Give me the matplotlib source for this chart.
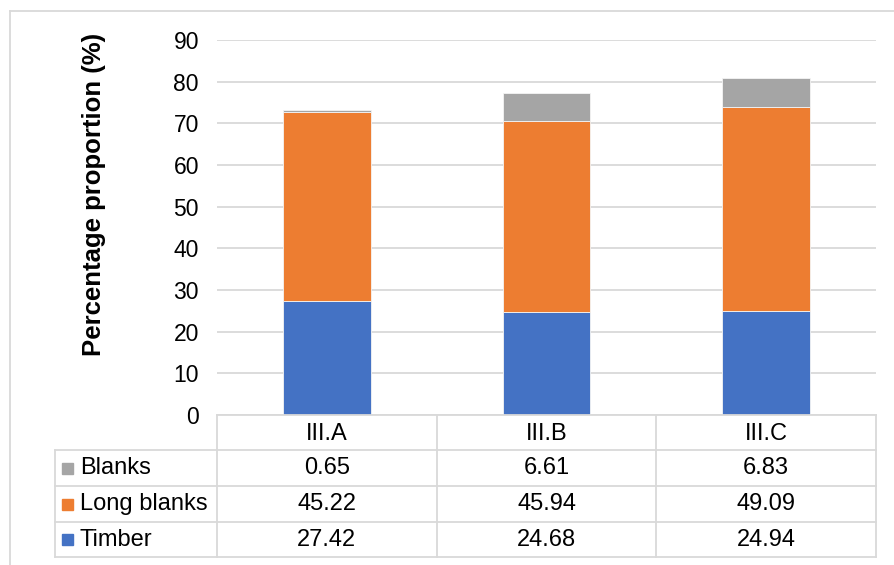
import matplotlib.pyplot as plt
import numpy as np
from matplotlib import transforms
from matplotlib.lines import Line2D
from matplotlib.patches import Rectangle

categories = ["III.A", "III.B", "III.C"]
timber = [27.42, 24.68, 24.94]
long_blanks = [45.22, 45.94, 49.09]
blanks = [0.65, 6.61, 6.83]

# table rows, top to bottom
row_names = ["Blanks", "Long blanks", "Timber"]
row_values = [blanks, long_blanks, timber]
row_colors = ["#A5A5A5", "#ED7D31", "#4472C4"]

plt.rcParams["font.family"] = ["Liberation Sans", "DejaVu Sans"]

W, H = 894, 565
fig = plt.figure(figsize=(W / 100, H / 100), dpi=100)


def fx(px):
    return px / W


def fy(py):
    return 1 - py / H


ax = fig.add_axes([fx(217), fy(415), fx(876) - fx(217), fy(40) - fy(415)])
x = np.arange(len(categories))
bw = 0.4
bottom = np.zeros(len(categories))
for vals, col in zip([timber, long_blanks, blanks], row_colors[::-1]):
    ax.bar(x, vals, bw, bottom=bottom, color=col, edgecolor="#f4f4f4",
           linewidth=0.6, zorder=3)
    bottom += np.array(vals)

ax.set_xlim(-0.5, len(categories) - 0.5)
ax.set_ylim(0, 90)
ax.set_yticks(range(0, 91, 10))
ax.yaxis.grid(True, color="#D9D9D9", linewidth=1.3)
ax.set_axisbelow(True)
for s in ax.spines.values():
    s.set_visible(False)
ax.tick_params(axis="y", length=0, labelsize=16.5, pad=13)
ax.tick_params(axis="x", length=0, labelbottom=False)
ax.set_ylabel("Percentage proportion (%)", fontsize=18.5, fontweight="bold")
ax.yaxis.set_label_coords(-0.168, 0.587)

# data table below the plot
tr = transforms.blended_transform_factory(ax.transData, fig.transFigure)
grid_kw = dict(color="#D9D9D9", linewidth=1.3)
row_y = [415, 450, 486, 522, 557]
x_lo, x_hi = -0.5, len(categories) - 0.5
fig.add_artist(Line2D([x_lo, x_hi], [fy(row_y[0])] * 2, transform=tr, **grid_kw))
for yy in row_y[1:]:
    fig.add_artist(Line2D([fx(55), fx(876)], [fy(yy)] * 2,
                          transform=fig.transFigure, **grid_kw))
for b in np.arange(x_lo, x_hi + 0.01, 1):
    fig.add_artist(Line2D([b, b], [fy(row_y[0]), fy(row_y[-1])], transform=tr, **grid_kw))
fig.add_artist(Line2D([fx(55), fx(55)], [fy(row_y[1]), fy(row_y[-1])],
                      transform=fig.transFigure, **grid_kw))

for i, c in enumerate(categories):
    fig.text(i, fy((row_y[0] + row_y[1]) / 2 + 1), c, transform=tr,
             ha="center", va="center", fontsize=17)

for r, (name, vals, col) in enumerate(zip(row_names, row_values, row_colors)):
    yc = fy((row_y[r + 1] + row_y[r + 2]) / 2)
    fig.add_artist(Rectangle((fx(62), yc - 5.5 / H), 11 / W, 11 / H,
                             transform=fig.transFigure, color=col))
    fig.text(fx(80), yc, name, ha="left", va="center", fontsize=17)
    for i, v in enumerate(vals):
        fig.text(i, yc, f"{v:.2f}", transform=tr, ha="center", va="center",
                 fontsize=17)

# outer chart border
fig.add_artist(Line2D([fx(10), fx(10)], [fy(11), 0], transform=fig.transFigure, **grid_kw))
fig.add_artist(Line2D([fx(10), 1], [fy(11), fy(11)], transform=fig.transFigure, **grid_kw))

fig.savefig("out.png", dpi=100)
